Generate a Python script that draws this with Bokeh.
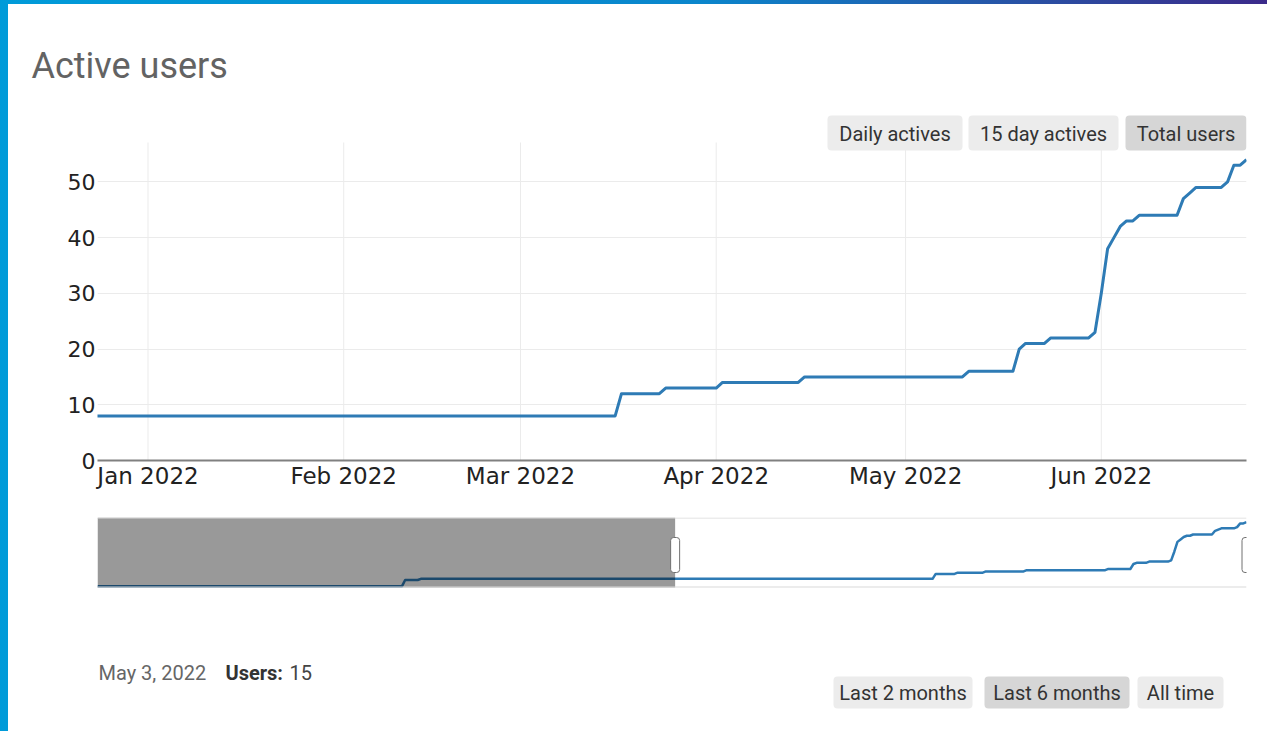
import pandas as pd
from bokeh.plotting import figure
from bokeh.layouts import column
from bokeh.models import Range1d, FixedTicker, DatetimeTickFormatter
from bokeh.core.properties import value
from bokeh.embed import file_html
from bokeh.resources import INLINE

# ---------------- data ----------------
title_text = "Active users"
dates = [
    "2021-06-23", "2021-09-28", "2021-09-29", "2021-10-03", "2021-10-04",
    "2022-03-16", "2022-03-17", "2022-03-23", "2022-03-24", "2022-04-01",
    "2022-04-02", "2022-04-14", "2022-04-15", "2022-05-10", "2022-05-11",
    "2022-05-18", "2022-05-19", "2022-05-20", "2022-05-23", "2022-05-24",
    "2022-05-30", "2022-05-31", "2022-06-01", "2022-06-02", "2022-06-03",
    "2022-06-04", "2022-06-05", "2022-06-06", "2022-06-07", "2022-06-13",
    "2022-06-14", "2022-06-15", "2022-06-16", "2022-06-20", "2022-06-21",
    "2022-06-22", "2022-06-23", "2022-06-24",
]
users = [
    2, 2, 7, 7, 8,
    8, 12, 12, 13, 13,
    14, 14, 15, 15, 16,
    16, 20, 21, 21, 22,
    22, 23, 30, 38, 40,
    42, 43, 43, 44, 44,
    47, 48, 49, 49, 50,
    53, 53, 54,
]
month_ticks = ["2022-01-01", "2022-02-01", "2022-03-01", "2022-04-01", "2022-05-01", "2022-06-01"]
y_ticks = [0, 10, 20, 30, 40, 50]
view_start, view_end = "2021-12-24", "2022-06-24"
all_start, all_end = "2021-06-23", "2022-06-24"
metric_buttons = ["Daily actives", "15 day actives", "Total users"]
period_buttons = ["Last 2 months", "Last 6 months", "All time"]
hover_date = "May 3, 2022"
hover_label = "Users:"
hover_value = "15"

# ---------------- styles ----------------
W = 1259
BLUE = "#2e7bb5"
GRID = "#ebebeb"
BTN = "#ececec"
BTN_SEL = "#d6d6d6"
UI_FONT = value("Roboto")
AX_FONT = "DejaVu Sans"

d = pd.to_datetime(dates)
tick_dt = pd.to_datetime(month_ticks)
tick_ms = [int(t.value // 10**6) for t in tick_dt]

# ---------------- main chart ----------------
MAIN_H = 494
FT, FB = 108, 456          # frame top / bottom (figure px)
main = figure(width=W, height=MAIN_H, x_axis_type="datetime",
              x_range=Range1d(pd.Timestamp(view_start), pd.Timestamp(view_end)),
              y_range=Range1d(0, (FB - FT) / 5.572),
              min_border_left=89, min_border_right=21, min_border_top=FT,
              min_border_bottom=MAIN_H - FB,
              output_backend="svg", toolbar_location=None)
main.outline_line_color = None
main.title.text = title_text
main.title.align = "left"
main.title.offset = -66
main.title.standoff = 52
main.title.text_font = "Roboto"
main.title.text_font_size = "36px"
main.title.text_font_style = "normal"
main.title.text_color = "#636363"

main.extra_x_ranges = {"px": Range1d(89, W - 21)}
main.extra_y_ranges = {"px": Range1d(FB, FT)}
main.xgrid.visible = False
main.ygrid.grid_line_color = GRID
main.ygrid.grid_line_width = 1

main.segment(x0=tick_dt, y0=0, x1=tick_dt, y1=57.07, line_color=GRID, line_width=1)
main.line(x=d, y=users, line_color=BLUE, line_width=3, line_join="round")

# metric buttons
main.quad(left=[819, 960, 1117], right=[954, 1110, 1238], top=[111, 111, 111], bottom=[146, 146, 146],
          fill_color=[BTN, BTN, BTN_SEL], line_color=None, border_radius=4,
          x_range_name="px", y_range_name="px")
main.text(x=[886.5, 1035, 1177.5], y=[129, 129, 129], text=metric_buttons,
          text_font=UI_FONT, text_font_size="20px", text_color="#333333",
          text_align="center", text_baseline="middle",
          x_range_name="px", y_range_name="px")

xa = main.xaxis[0]
xa.ticker = FixedTicker(ticks=tick_ms)
xa.formatter = DatetimeTickFormatter(days="%b %Y", months="%b %Y", years="%b %Y")
ya = main.yaxis[0]
ya.ticker = FixedTicker(ticks=y_ticks)
for ax in (xa, ya):
    ax.major_tick_line_color = None
    ax.minor_tick_line_color = None
    ax.major_tick_out = 0
    ax.major_tick_in = 0
    ax.minor_tick_out = 0
    ax.minor_tick_in = 0
    ax.major_label_standoff = 2
    ax.major_label_text_font = AX_FONT
    ax.major_label_text_color = "#222222"
xa.major_label_text_font_size = "23px"
ya.major_label_text_font_size = "22px"
xa.axis_line_color = "#808080"
xa.axis_line_width = 2
ya.axis_line_color = None

# ---------------- range selector + footer ----------------
LOW_H = 233
LT = 19
sel_top = 57.82
sel_span = (LOW_H - LT) / 1.2304
lower = figure(width=W, height=LOW_H, x_axis_type="datetime",
               x_range=Range1d(pd.Timestamp(all_start), pd.Timestamp(all_end)),
               y_range=Range1d(sel_top - sel_span, sel_top),
               x_axis_location=None, y_axis_location=None,
               min_border_left=89, min_border_right=21, min_border_top=LT, min_border_bottom=0,
               output_backend="svg", toolbar_location=None)
lower.outline_line_color = None
lower.grid.visible = False
lower.extra_x_ranges = {"px": Range1d(89, W - 21)}
lower.extra_y_ranges = {"px": Range1d(LOW_H, LT)}

lower.line(x=d, y=users, line_color=BLUE, line_width=2.5, line_join="round")
lower.quad(left=[pd.Timestamp(all_start)], right=[pd.Timestamp(view_start)], top=[19], bottom=[89],
           fill_color="black", fill_alpha=0.4, line_color=None, y_range_name="px")
lower.segment(x0=[89, 89], y0=[19.5, 88.5], x1=[1238, 1238], y1=[19.5, 88.5],
              line_color="#d9d9d9", line_width=1, x_range_name="px", y_range_name="px")
lower.rect(x=[pd.Timestamp(view_start), pd.Timestamp(view_end)], y=[56.5, 56.5],
           width=9, height=35, width_units="screen", height_units="screen",
           fill_color="white", line_color="#707070", line_width=1, border_radius=3,
           y_range_name="px")

# footer hover text
lower.text(x=[90], y=[174], text=[hover_date], text_font=UI_FONT, text_font_size="20px",
           text_color="#666666", text_baseline="alphabetic", x_range_name="px", y_range_name="px")
lower.text(x=[217], y=[174], text=[hover_label], text_font=UI_FONT, text_font_size="20px",
           text_font_style="bold", text_color="#333333", text_baseline="alphabetic",
           x_range_name="px", y_range_name="px")
lower.text(x=[281], y=[174], text=[hover_value], text_font=UI_FONT, text_font_size="20px",
           text_color="#444444", text_baseline="alphabetic", x_range_name="px", y_range_name="px")

# period buttons
lower.quad(left=[825, 976, 1129], right=[964, 1121, 1215], top=[178, 178, 178], bottom=[210, 210, 210],
           fill_color=[BTN, BTN_SEL, BTN], line_color=None, border_radius=4,
           x_range_name="px", y_range_name="px")
lower.text(x=[894.5, 1048.5, 1172], y=[194, 194, 194], text=period_buttons,
           text_font=UI_FONT, text_font_size="20px", text_color="#333333",
           text_align="center", text_baseline="middle",
           x_range_name="px", y_range_name="px")

card = column(main, lower, spacing=0, styles={"background-color": "white"})
layout = column(card, spacing=0,
                styles={"background": "linear-gradient(90deg, #009bd9 0%, #0a86cc 55%, #2a4fa3 82%, #3b2a8a 100%)",
                        "padding-left": "8px", "padding-top": "4px"})
open("out.html", "w").write(file_html(layout, INLINE))
